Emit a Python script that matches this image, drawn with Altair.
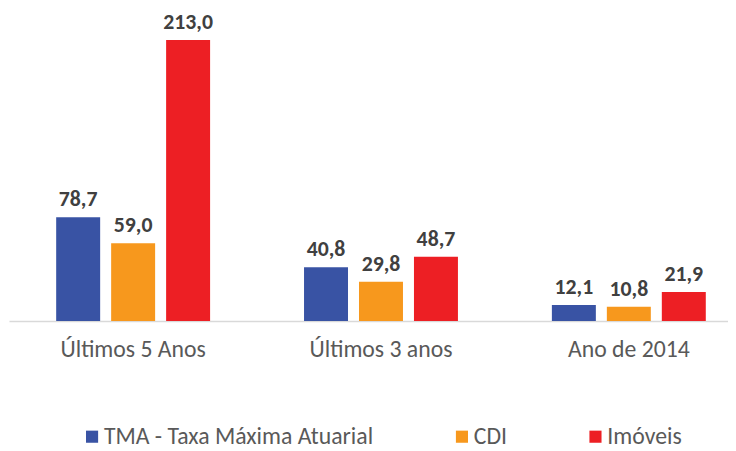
import altair as alt
import pandas as pd

categories = ["Últimos 5 Anos", "Últimos 3 anos", "Ano de 2014"]
series = ["TMA - Taxa Máxima Atuarial", "CDI", "Imóveis"]
tma = [78.7, 40.8, 12.1]
cdi = [59.0, 29.8, 10.8]
imoveis = [213.0, 48.7, 21.9]
colors = ["#3953a4", "#f7981d", "#ed1f24"]

rows = []
for i, c in enumerate(categories):
    for s, vals in zip(series, [tma, cdi, imoveis]):
        rows.append({"cat": c, "serie": s, "valor": vals[i],
                     "rotulo": f"{vals[i]:.1f}".replace(".", ",")})
df = pd.DataFrame(rows)

FONT = "Carlito, Lato, sans-serif"

x = alt.X("cat:N", sort=categories, title=None,
          scale=alt.Scale(paddingInner=0.379, paddingOuter=0.14, align=0.68),
          axis=alt.Axis(labelAngle=0, ticks=False, domainColor="#d9d9d9", domainWidth=1.5,
                        labelFontSize=24, labelColor="#595959", labelFont=FONT,
                        labelBaseline="alphabetic", labelPadding=36))
xo = alt.XOffset("serie:N", sort=series, scale=alt.Scale(paddingInner=0.2, paddingOuter=0))
y = alt.Y("valor:Q", scale=alt.Scale(domain=[0, 235.5]), axis=None)

bars = alt.Chart(df).mark_bar().encode(
    x=x, xOffset=xo, y=y,
    color=alt.Color("serie:N", sort=series,
                    scale=alt.Scale(domain=series, range=colors),
                    legend=alt.Legend(title=None, orient="none", legendX=72, legendY=419,
                                      direction="horizontal", symbolType="square",
                                      symbolSize=150, symbolStrokeWidth=0,
                                      labelFontSize=24, labelColor="#595959", labelFont=FONT,
                                      labelLimit=0, columnPadding=77, labelOffset=0)),
)

labels = alt.Chart(df).mark_text(dy=-11, baseline="alphabetic", fontSize=22, fontWeight="bold",
                                 color="#404040", font=FONT).encode(
    x=x, xOffset=xo, y=y, text="rotulo:N"
)

chart = (bars + labels).properties(
    width=727, height=314, padding={"left": 1, "top": 0, "right": 0, "bottom": 0}
).configure_view(stroke=None)

chart.save("out.html", embed_options={"renderer": "svg", "actions": False})
